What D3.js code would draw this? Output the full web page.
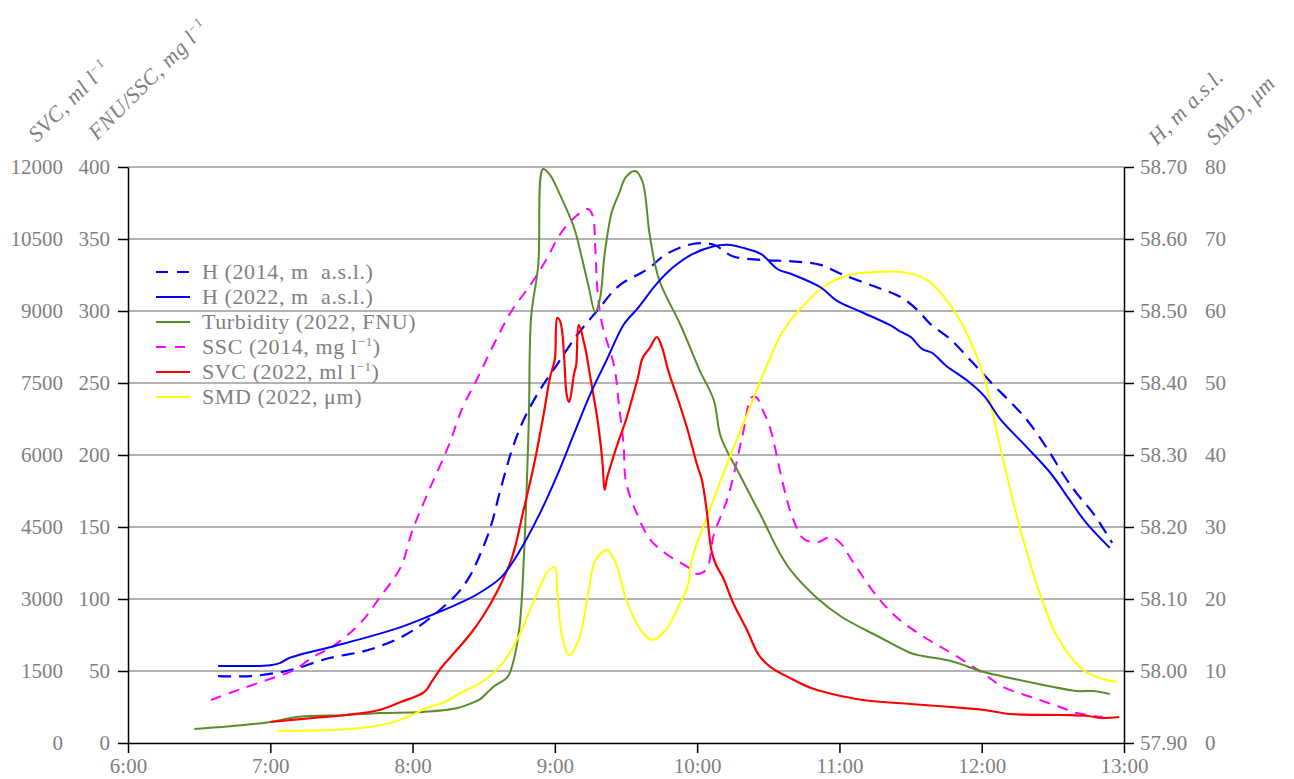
<!DOCTYPE html>
<html>
<head>
<meta charset="utf-8">
<script src="https://cdn.jsdelivr.net/npm/d3@7"></script>
<style>
  body { margin: 0; background: #fff; }
  svg text { font-family: "Liberation Serif", "DejaVu Serif", serif; fill: #7f7f7f; }
</style>
</head>
<body>
<svg id="chart" width="1294" height="779"></svg>
<script>
// time of day, value in the unit of its own axis
var h2014 = [
  ["6:38",57.993],["6:52",57.993],["7:08",58.001],["7:25",58.018],["7:40",58.028],["7:52",58.042],["8:00",58.056],
  ["8:09",58.078],["8:19",58.108],["8:24",58.131],["8:28",58.158],["8:33",58.201],["8:37",58.251],["8:42",58.308],
  ["8:47",58.350],["8:54",58.392],["9:01",58.426],["9:09",58.465],["9:18",58.501],["9:27",58.535],["9:39",58.558],
  ["9:47",58.579],["9:58",58.593],["10:07",58.592],["10:15",58.576],["10:27",58.571],["10:40",58.569],["10:52",58.564],
  ["11:01",58.551],["11:14",58.535],["11:26",58.519],["11:33",58.501],["11:38",58.483],["11:47",58.460],["11:56",58.429],
  ["12:05",58.397],["12:12",58.374],["12:19",58.349],["12:28",58.307],["12:34",58.275],["12:40",58.247],["12:47",58.219],
  ["12:55",58.178]
];
var h2022 = [
  ["6:38",58.007],["7:00",58.008],["7:04",58.011],["7:08",58.018],["7:25",58.033],["7:41",58.047],["7:55",58.061],
  ["8:06",58.075],["8:21",58.096],["8:28",58.108],["8:37",58.129],["8:42",58.150],["8:48",58.183],["8:54",58.221],
  ["9:01",58.272],["9:08",58.329],["9:15",58.385],["9:22",58.433],["9:29",58.481],["9:35",58.504],["9:43",58.538],
  ["9:50",58.561],["9:58",58.579],["10:07",58.590],["10:13",58.592],["10:19",58.588],["10:27",58.579],["10:34",58.558],
  ["10:40",58.551],["10:52",58.533],["10:59",58.514],["11:09",58.499],["11:21",58.481],["11:26",58.471],["11:30",58.464],
  ["11:35",58.447],["11:39",58.442],["11:45",58.424],["11:54",58.403],["12:01",58.382],["12:08",58.349],["12:19",58.311],
  ["12:29",58.275],["12:37",58.238],["12:44",58.206],["12:54",58.171]
];
var turbidity = [
  ["6:28",9.7],["7:00",14.6],["7:11",18.1],["7:32",19.4],["7:46",20.8],["8:04",21.5],["8:19",24.3],["8:25",27.8],
  ["8:28",29.9],["8:34",38.9],["8:40",45.8],["8:42",53.5],["8:45",79.2],["8:47",131.3],["8:49",222.9],["8:50",295.8],
  ["8:53",331.9],["8:55",398.6],["8:58",394.4],["9:02",381.3],["9:08",358.3],["9:11",339.6],["9:14",318.8],["9:17",299.3],
  ["9:19",308.3],["9:21",339.6],["9:24",368.8],["9:27",381.3],["9:30",393.1],["9:34",397.2],["9:37",389.6],["9:40",352.8],
  ["9:44",321.5],["9:53",290.3],["10:01",259.0],["10:07",238.2],["10:10",212.5],["10:18",186.1],["10:27",157.6],
  ["10:35",131.3],["10:40",118.8],["10:51",100.0],["11:01",87.5],["11:16",74.3],["11:30",62.5],["11:35",60.4],
  ["11:47",56.9],["12:01",49.3],["12:12",45.1],["12:26",40.3],["12:40",36.1],["12:47",36.1],["12:54",34.0]
];
var ssc = [
  ["6:35",29.9],["6:50",38.9],["7:01",45.1],["7:10",50.7],["7:18",59.7],["7:26",66.7],["7:38",83.3],["7:46",100.7],
  ["7:55",122.2],["8:00",147.9],["8:07",175.7],["8:15",205.6],["8:21",232.6],["8:27",252.1],["8:36",282.6],["8:42",300.7],
  ["8:50",318.8],["8:57",337.5],["9:02",352.8],["9:09",366.0],["9:14",370.8],["9:16",366.0],["9:17",345.1],["9:18",313.9],
  ["9:20",290.3],["9:25",261.8],["9:27",235.4],["9:29",206.9],["9:30",181.3],["9:35",157.6],["9:40",141.7],["9:47",131.3],
  ["9:56",122.2],["10:00",117.4],["10:04",120.8],["10:07",144.4],["10:13",170.8],["10:19",212.5],["10:23",240.0],
  ["10:25",240.0],["10:28",229.9],["10:31",217.4],["10:36",181.3],["10:40",157.6],["10:45",141.7],["10:51",139.6],
  ["10:56",143.1],["11:00",139.6],["11:06",125.0],["11:16",101.4],["11:24",87.5],["11:35",74.3],["11:50",59.7],
  ["12:01",47.9],["12:09",38.9],["12:22",31.3],["12:33",25.0],["12:40",20.8],["12:51",18.1]
];
var svc = [
  ["7:00",437],["7:18",521],["7:32",583],["7:46",688],["7:55",854],["8:05",1063],["8:08",1271],["8:12",1563],
  ["8:19",1958],["8:25",2313],["8:30",2667],["8:36",3188],["8:42",3875],["8:47",4896],["8:51",5750],["8:55",6771],
  ["8:58",7625],["9:00",8000],["9:01",8854],["9:02",8813],["9:03",8604],["9:04",7979],["9:05",7250],["9:06",7104],
  ["9:07",7313],["9:08",7667],["9:09",7875],["9:10",8708],["9:11",8604],["9:12",8396],["9:13",8188],["9:15",7604],
  ["9:18",6729],["9:20",5896],["9:21",5271],["9:22",5521],["9:24",5854],["9:27",6313],["9:30",6729],["9:33",7250],
  ["9:35",7604],["9:37",8021],["9:40",8229],["9:43",8458],["9:45",8271],["9:48",7729],["9:52",7146],["9:56",6521],
  ["10:00",5792],["10:02",5479],["10:04",4854],["10:06",4021],["10:08",3708],["10:11",3438],["10:15",2938],
  ["10:21",2354],["10:26",1833],["10:31",1583],["10:40",1333],["10:48",1146],["10:57",1021],["11:10",896],
  ["11:30",813],["11:47",750],["12:01",688],["12:12",604],["12:33",583],["12:45",563],["12:50",521],["12:58",542]
];
var smd = [
  ["7:03",1.7],["7:25",1.8],["7:41",2.2],["7:52",2.9],["8:00",3.9],["8:06",4.9],["8:13",5.6],["8:21",7.1],["8:28",8.2],
  ["8:37",10.7],["8:44",14.3],["8:51",19.6],["8:57",23.8],["9:00",24.4],["9:01",21.1],["9:03",14.9],["9:06",12.2],
  ["9:10",14.3],["9:14",20.6],["9:17",25.3],["9:22",26.8],["9:26",24.7],["9:30",20.0],["9:36",15.8],["9:41",14.3],
  ["9:47",15.8],["9:53",19.6],["9:56",21.7],["9:58",25.8],["10:05",32.1],["10:14",39.9],["10:21",45.6],["10:28",51.3],
  ["10:36",57.1],["10:43",60.1],["10:53",63.3],["11:04",65.0],["11:16",65.4],["11:27",65.4],["11:37",64.3],
  ["11:47",60.7],["11:55",56.0],["12:01",50.8],["12:08",40.8],["12:16",30.0],["12:25",20.3],["12:32",14.7],
  ["12:43",10.1],["12:50",9.0],["12:57",8.5]
];

var timeTicks = ["6:00","7:00","8:00","9:00","10:00","11:00","12:00","13:00"];
var fnuTicks = [0,50,100,150,200,250,300,350,400];
var svcTicks = [0,1500,3000,4500,6000,7500,9000,10500,12000];
var hTicks = [57.9,58.0,58.1,58.2,58.3,58.4,58.5,58.6,58.7];
var smdTicks = [0,10,20,30,40,50,60,70,80];

(function() {
var parseT = d3.timeParse("%H:%M");

var pLeft = 128, pRight = 1124, pTop = 167, pBottom = 743;

var svg = d3.select("#chart");

var x = d3.scaleTime().domain([parseT("6:00"), parseT("13:00")]).range([pLeft, pRight]);
var yFnu = d3.scaleLinear().domain([0, 400]).range([pBottom, pTop]);
var ySvc = d3.scaleLinear().domain([0, 12000]).range([pBottom, pTop]);
var yH = d3.scaleLinear().domain([57.9, 58.7]).range([pBottom, pTop]);
var ySmd = d3.scaleLinear().domain([0, 80]).range([pBottom, pTop]);

// gridlines
svg.append("g").selectAll("line")
  .data(fnuTicks.slice(1))
  .enter().append("line")
  .attr("x1", pLeft).attr("x2", pRight)
  .attr("y1", function(d) { return yFnu(d); })
  .attr("y2", function(d) { return yFnu(d); })
  .attr("stroke", "#9a9a9a").attr("stroke-width", 1.5);

function styleAxis(g) {
  g.selectAll("path").attr("stroke", "#000").attr("stroke-width", 1.5);
  g.selectAll("line").attr("stroke", "#000").attr("stroke-width", 1.5);
  g.selectAll("text").attr("fill", "#7f7f7f")
    .style("font-family", "'Liberation Serif', serif").style("font-size", "21px");
}

// left axes
svg.append("g").attr("transform", "translate(" + pLeft + ",0)")
  .call(d3.axisLeft(yFnu).tickValues(fnuTicks).tickSize(10).tickSizeOuter(0).tickPadding(8))
  .call(styleAxis);
svg.append("g").attr("transform", "translate(" + pLeft + ",0)")
  .call(d3.axisLeft(ySvc).tickValues(svcTicks).tickSize(0).tickPadding(65).tickFormat(d3.format("d")))
  .call(styleAxis)
  .call(function(g) { g.select(".domain").remove(); });

// right axes
svg.append("g").attr("transform", "translate(" + pRight + ",0)")
  .call(d3.axisRight(yH).tickValues(hTicks).tickSize(10).tickSizeOuter(0).tickPadding(6).tickFormat(d3.format(".2f")))
  .call(styleAxis);
svg.append("g").attr("transform", "translate(" + pRight + ",0)")
  .call(d3.axisRight(ySmd).tickValues(smdTicks).tickSize(0).tickPadding(81))
  .call(styleAxis)
  .call(function(g) { g.select(".domain").remove(); });

// bottom axis
svg.append("g").attr("transform", "translate(0," + pBottom + ")")
  .call(d3.axisBottom(x).tickValues(timeTicks.map(parseT)).tickSize(10).tickSizeOuter(0).tickPadding(5)
    .tickFormat(d3.timeFormat("%-H:%M")))
  .call(styleAxis);

// series
var series = [
  { data: h2014, y: yH, color: "#0000ff", dash: "13,8", w: 2.2 },
  { data: ssc, y: yFnu, color: "#ff00ff", dash: "11,8", w: 2 },
  { data: turbidity, y: yFnu, color: "#5a8c2a", dash: null, w: 2 },
  { data: smd, y: ySmd, color: "#ffff00", dash: null, w: 2 },
  { data: svc, y: ySvc, color: "#ff0000", dash: null, w: 2.2 },
  { data: h2022, y: yH, color: "#0000ff", dash: null, w: 2 }
];

series.forEach(function(s) {
  var line = d3.line()
    .curve(d3.curveCatmullRom.alpha(0.5))
    .x(function(d) { return x(parseT(d[0])); })
    .y(function(d) { return s.y(d[1]); });
  svg.append("path")
    .datum(s.data)
    .attr("d", line)
    .attr("fill", "none")
    .attr("stroke", s.color)
    .attr("stroke-width", s.w)
    .attr("stroke-linejoin", "round")
    .attr("stroke-dasharray", s.dash);
});

// legend
var legendItems = [
  { label: ["H (2014, m  a.s.l.)"], color: "#0000ff", dash: "12,9" },
  { label: ["H (2022, m  a.s.l.)"], color: "#0000ff", dash: null },
  { label: ["Turbidity (2022, FNU)"], color: "#5a8c2a", dash: null },
  { label: ["SSC (2014, mg l", "\u22121", ")"], color: "#ff00ff", dash: "10,9" },
  { label: ["SVC (2022, ml l", "\u22121", ")"], color: "#ff0000", dash: null },
  { label: ["SMD (2022, \u03bcm)"], color: "#ffff00", dash: null }
];
var legend = svg.append("g");
legendItems.forEach(function(item, i) {
  var cy = 272 + i * 25;
  legend.append("line")
    .attr("x1", 156).attr("x2", 190).attr("y1", cy).attr("y2", cy)
    .attr("stroke", item.color).attr("stroke-width", 2.2)
    .attr("stroke-dasharray", item.dash);
  var t = legend.append("text").attr("x", 202).attr("y", cy + 7)
    .style("font-size", "22px").style("letter-spacing", "0.6px").style("white-space", "pre");
  t.append("tspan").text(item.label[0]);
  if (item.label.length > 1) {
    t.append("tspan").attr("dy", -8).style("font-size", "13px").text(item.label[1]);
    t.append("tspan").attr("dy", 8).text(item.label[2]);
  }
});

// axis titles, rotated
function axisTitle(xp, yp, parts) {
  var t = svg.append("text")
    .attr("transform", "translate(" + xp + "," + yp + ") rotate(-45)")
    .style("font-size", "22px").style("font-style", "italic").style("letter-spacing", "0.5px");
  t.append("tspan").text(parts[0]);
  if (parts.length > 1) {
    t.append("tspan").attr("dy", -8).style("font-size", "13px").text(parts[1]);
  }
}
axisTitle(37, 143, ["SVC, ml l", "\u22121"]);
axisTitle(97, 141, ["FNU/SSC, mg l", "\u22121"]);
axisTitle(1157, 146, ["H, m a.s.l."]);
axisTitle(1215, 146, ["SMD, \u03bcm"]);
})();
</script>
</body>
</html>
